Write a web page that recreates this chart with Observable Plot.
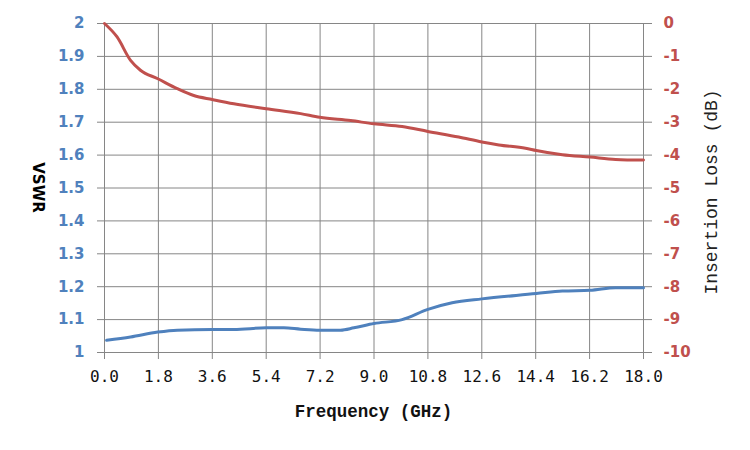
<!DOCTYPE html>
<html>
<head>
<meta charset="utf-8">
<script src="https://cdn.jsdelivr.net/npm/d3@7"></script>
<script src="https://cdn.jsdelivr.net/npm/@observablehq/plot@0.6"></script>
<style>
  html, body { margin: 0; padding: 0; background: #fff; }
  #chart { width: 750px; height: 450px; }
</style>
</head>
<body>
<div id="chart"></div>
<script>
// Frequency (GHz) for VSWR readings
const vswrFreq = [0.07, 0.87, 1.78, 2.43, 3.6, 4.32, 5.4, 5.99, 6.55, 7.19, 7.88, 8.33, 9.0, 9.94, 10.8, 11.61, 12.6, 14.42, 15.29, 16.21, 17.07, 18.0];
const vswrValues = [1.037, 1.047, 1.062, 1.068, 1.070, 1.070, 1.075, 1.075, 1.071, 1.068, 1.068, 1.075, 1.088, 1.100, 1.131, 1.151, 1.163, 1.179, 1.187, 1.189, 1.197, 1.197];

// Frequency (GHz) for insertion loss readings
const ilFreq = [0.0, 0.42, 0.87, 1.2, 1.78, 2.43, 2.98, 3.6, 4.32, 5.4, 6.55, 7.19, 8.22, 9.0, 9.94, 10.8, 11.83, 12.6, 13.17, 14.06, 14.42, 15.29, 16.21, 17.07, 18.0];
const ilValues = [0.0, -0.41, -1.12, -1.42, -1.68, -1.98, -2.19, -2.31, -2.44, -2.59, -2.74, -2.85, -2.95, -3.05, -3.13, -3.28, -3.45, -3.6, -3.69, -3.79, -3.86, -3.99, -4.06, -4.13, -4.15];

const xTicks = [0, 1.8, 3.6, 5.4, 7.2, 9.0, 10.8, 12.6, 14.4, 16.2, 18.0];
const vswrTicks = [1, 1.1, 1.2, 1.3, 1.4, 1.5, 1.6, 1.7, 1.8, 1.9, 2];
const ilTicks = [0, -1, -2, -3, -4, -5, -6, -7, -8, -9, -10];

const blue = "#4F81BD";
const red = "#C0504D";
const grid = "#868686";

// map insertion loss (0..-10 dB) onto the VSWR scale (2..1)
const ilToY = d => 2 + d / 10;

const vswrData = vswrFreq.map((f, i) => ({f, v: vswrValues[i]}));
const ilData = ilFreq.map((f, i) => ({f, v: ilValues[i]}));

const plot = Plot.plot({
  width: 750,
  height: 450,
  marginLeft: 104,
  marginRight: 107,
  marginTop: 23,
  marginBottom: 98,
  style: {background: "#fff", overflow: "visible"},
  x: {domain: [0, 18]},
  y: {domain: [1, 2]},
  marks: [
    Plot.gridX(xTicks, {stroke: grid, strokeOpacity: 1, strokeWidth: 1}),
    Plot.gridY(vswrTicks, {stroke: grid, strokeOpacity: 1, strokeWidth: 1}),
    Plot.axisX(xTicks, {
      tickSize: 7, tickPadding: 11, stroke: grid,
      tickFormat: d => d.toFixed(1),
      fontSize: 16, fontFamily: "DejaVu Sans Mono", fill: "#111",
      label: null
    }),
    Plot.axisY(vswrTicks, {
      anchor: "left", tickSize: 7, tickPadding: 13, stroke: grid,
      tickFormat: d => d3.format("~g")(d),
      fontSize: 15, fontWeight: "bold", fontFamily: "DejaVu Sans", fill: blue,
      label: null
    }),
    Plot.axisY(ilTicks.map(ilToY), {
      anchor: "right", tickSize: 8, tickPadding: 12, stroke: grid,
      tickFormat: d => String(Math.round((d - 2) * 10)),
      fontSize: 15, fontWeight: "bold", fontFamily: "DejaVu Sans", fill: red,
      label: null
    }),
    Plot.line(ilData, {x: "f", y: d => ilToY(d.v), stroke: red, strokeWidth: 3, curve: "monotone-x"}),
    Plot.line(vswrData, {x: "f", y: "v", stroke: blue, strokeWidth: 3, curve: "monotone-x"})
  ]
});

const svg = d3.select(plot);
svg.append("text")
  .attr("x", 373.5).attr("y", 412)
  .attr("text-anchor", "middle").attr("dominant-baseline", "middle")
  .attr("font-family", "Liberation Mono").attr("font-weight", "bold")
  .attr("font-size", 17.5).attr("fill", "#111")
  .text("Frequency (GHz)");
svg.append("text")
  .attr("transform", "translate(712,192) rotate(-90)")
  .attr("text-anchor", "middle").attr("dominant-baseline", "middle")
  .attr("font-family", "Liberation Mono")
  .attr("font-size", 18).attr("fill", "#222")
  .text("Insertion Loss (dB)");
svg.append("text")
  .attr("transform", "translate(37,187.5) rotate(90)")
  .attr("text-anchor", "middle").attr("dominant-baseline", "middle")
  .attr("font-family", "DejaVu Sans").attr("font-weight", "bold")
  .attr("font-size", 15).attr("fill", "#000")
  .text("VSWR");

document.getElementById("chart").appendChild(plot);
</script>
</body>
</html>
